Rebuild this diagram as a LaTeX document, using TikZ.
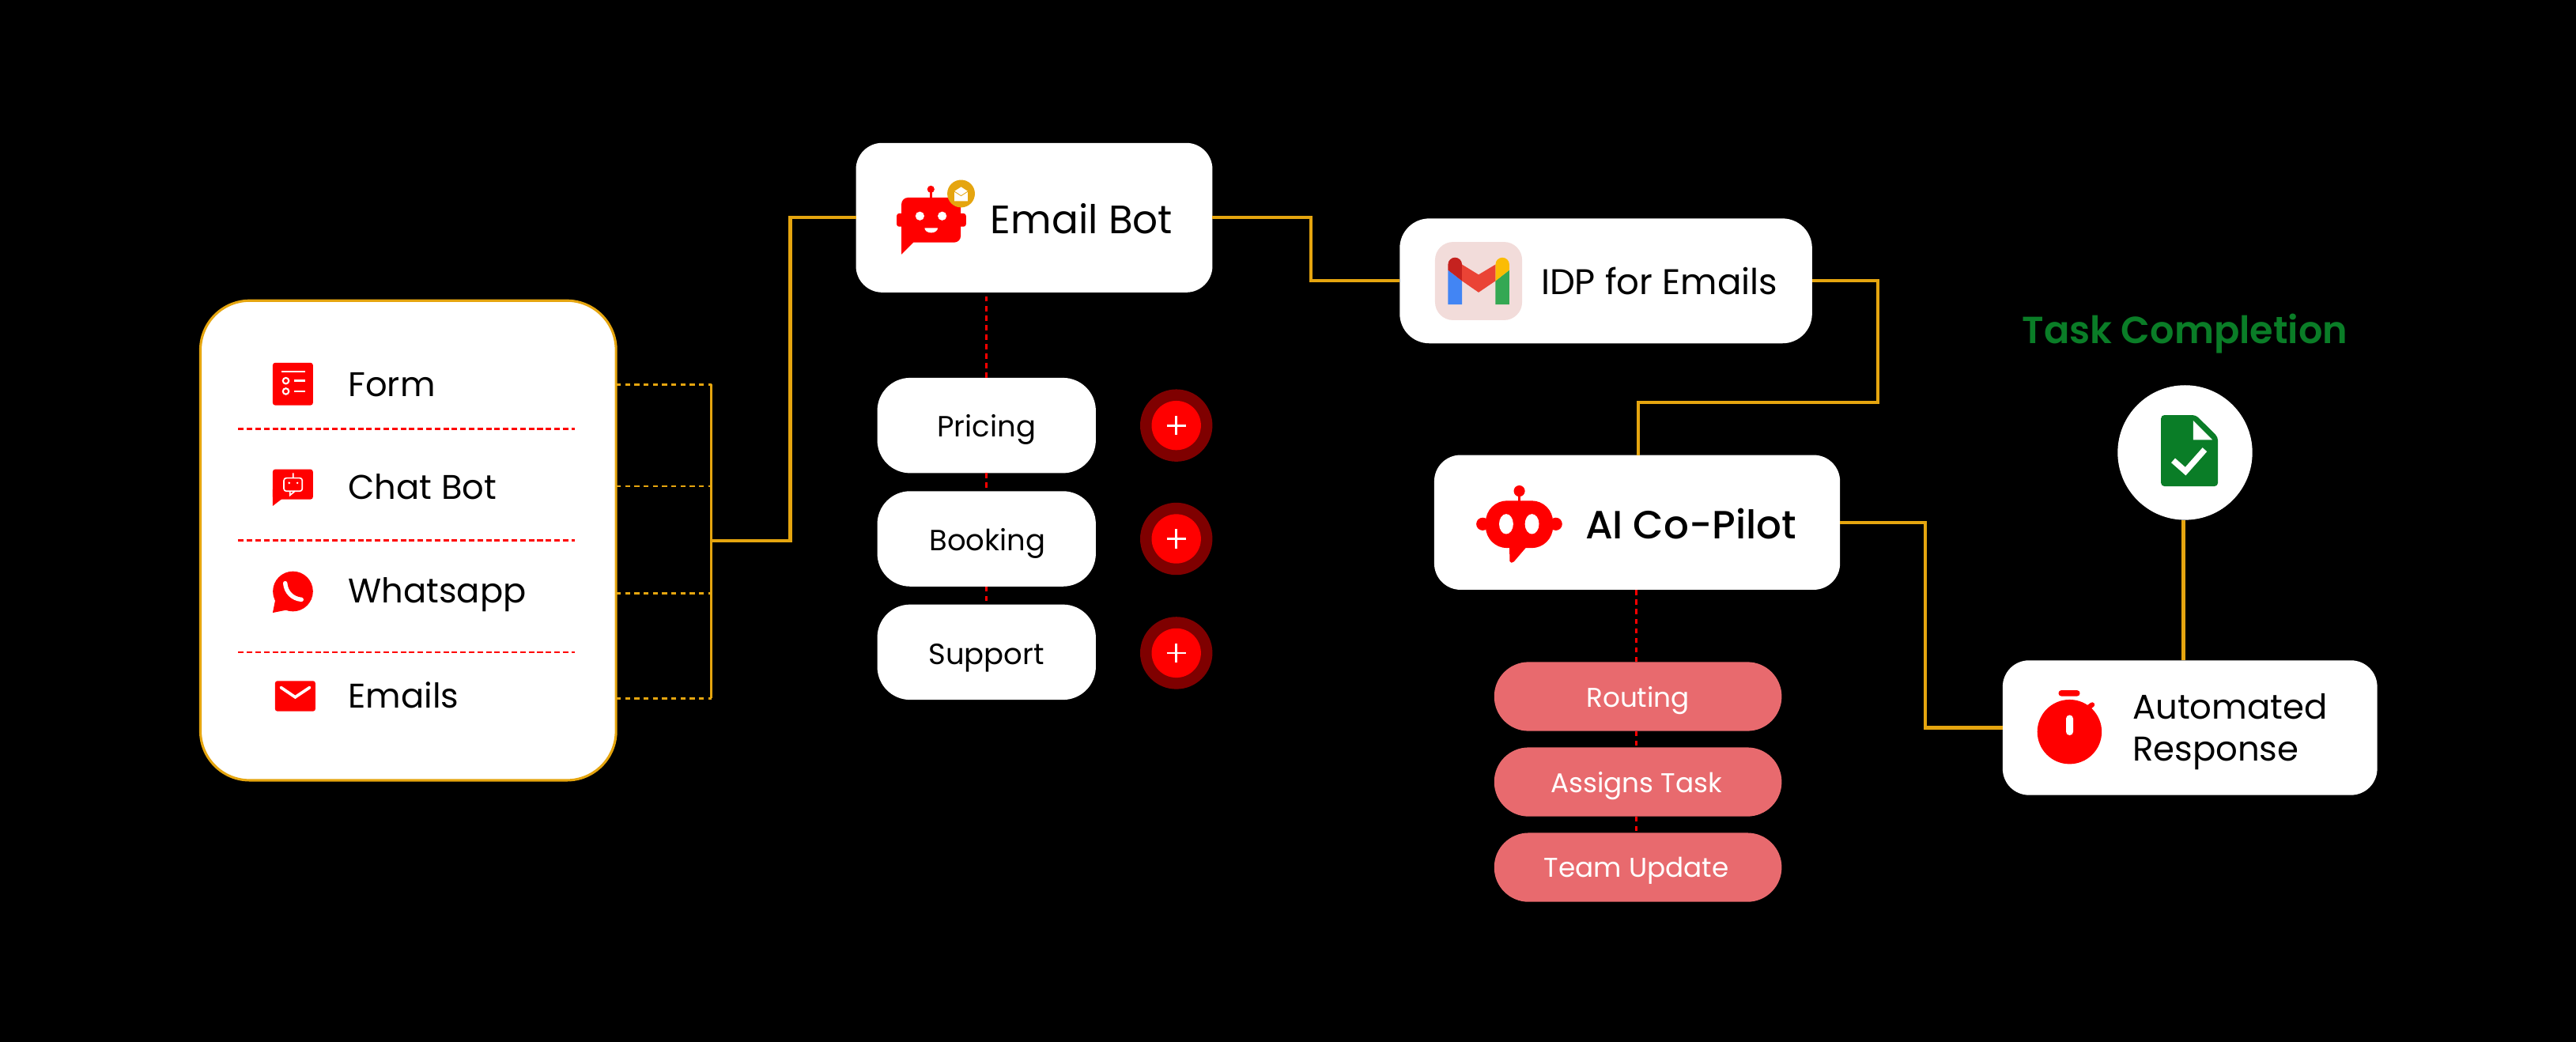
\documentclass[tikz,border=0pt]{standalone}
\usepackage{fontspec}
\setmainfont{Poppins}
\newfontfamily\heavyfont{Poppins Medium}
\newfontfamily\titlefont{Poppins SemiBold}
\usetikzlibrary{positioning}
\definecolor{brandred}{HTML}{FF0000}
\definecolor{darkdisc}{HTML}{7F0000}
\definecolor{gold}{HTML}{E5A50F}
\definecolor{softred}{HTML}{E86A6E}
\definecolor{taskgreen}{HTML}{0A7D27}
\definecolor{gmailtile}{HTML}{F2DCDA}
\definecolor{gmailblue}{HTML}{4285F4}
\definecolor{gmailgreen}{HTML}{34A853}
\definecolor{gmaildark}{HTML}{C5221F}
\definecolor{gmailyellow}{HTML}{FBBC04}
\definecolor{gmailred}{HTML}{EA4335}

\begin{document}
\begin{tikzpicture}
  [x=1pt,y=-1pt,
   box/.style={fill=white,rounded corners=16pt,inner sep=0pt,outer sep=0pt},
   pillbox/.style={box,minimum width=133pt,minimum height=58pt,rounded corners=20pt},
   taskpill/.style={fill=softred,rounded corners=20.9pt,inner sep=0pt,outer sep=0pt,
     minimum width=175pt,minimum height=42pt},
   lbl/.style={inner sep=0pt,outer sep=0pt,anchor=base west,text=black},
   rowlbl/.style={lbl,font=\fontsize{20.8}{25}\selectfont},
   pilllbl/.style={inner sep=0pt,anchor=base,text=black,font=\fontsize{17.8}{21}\selectfont},
   tasklbl/.style={inner sep=0pt,anchor=base,text=white,font=\fontsize{16.5}{20}\selectfont},
   link/.style={draw=gold,line width=2pt},
   thinlink/.style={draw=gold,line width=1.5pt},
   dotlink/.style={draw=gold,line width=1.4pt,dash pattern=on 3pt off 2.6pt},
   redlink/.style={draw=brandred,line width=1.2pt,dash pattern=on 3.4pt off 1.8pt},
   redstem/.style={draw=brandred,line width=1.3pt,dash pattern=on 3.2pt off 2.6pt},
   disc/.style={circle,fill=darkdisc,minimum size=44pt,inner sep=0pt},
   plusdisc/.style={circle,fill=brandred,minimum size=30pt,inner sep=0pt},
   plusbar/.style={draw=white,line width=1.3pt}]

  \useasboundingbox (0,0) rectangle (1568,633.85);
  \fill[black] (-2,-2) rectangle (1570,636);

  \node[box,fill=white,draw=gold,line width=1.5pt,rounded corners=30pt,
        minimum width=253pt,minimum height=292pt] (card) at (248.5,329) {};
  \coordinate (formtap)   at (433,234);
  \coordinate (chattap)   at (433,296);
  \coordinate (whatstap)  at (433,361);
  \coordinate (emailstap) at (433,425);
  \coordinate (bus)       at (433,329);
  \coordinate (doneaxis)  at (1329,0);
  \coordinate (routeaxis) at (996,0);
  \coordinate (copilotaxis) at (997,0);

  \node[rowlbl] (form)     at (212,241.6) {Form};
  \node[rowlbl] (chatbot)  at (212,303.8) {Chat Bot};
  \node[rowlbl] (whatsapp) at (212,367.2) {Whatsapp};
  \node[rowlbl] (emails)   at (212,430.8) {Emails};

  \coordinate (sepa) at (145,261);
  \coordinate (sepb) at (145,329);
  \coordinate (sepc) at (145,397);
  \draw[redlink] (sepa) -- ++(205,0);
  \draw[redlink] (sepb) -- ++(205,0);
  \draw[redlink] (sepc) -- ++(205,0);

  \draw[dotlink] (card.east |- formtap)   -- (formtap);
  \draw[dotlink] (card.east |- chattap)   -- (chattap);
  \draw[dotlink] (card.east |- whatstap)  -- (whatstap);
  \draw[dotlink] (card.east |- emailstap) -- (emailstap);
  \draw[thinlink] (formtap) -- (emailstap);

  \node[box,minimum width=217pt,minimum height=91pt] (emailbot) at (629.5,132.5) {};
  \node[lbl,font=\fontsize{24.1}{28}\selectfont] (emailbotlbl) at (603,142) {Email Bot};
  \node[box,rounded corners=18pt,minimum width=251pt,minimum height=76pt] (idp) at (977.5,171) {};
  \node[lbl,font=\fontsize{21.7}{26}\selectfont] (idplbl) at (938,179.4) {IDP for Emails};
  \node[box,minimum width=247pt,minimum height=82pt] (copilot) at (996.5,318) {};
  \node[lbl,font=\heavyfont\fontsize{24}{28}\selectfont] (copilotlbl) at (965,328.2) {AI Co-Pilot};
  \node[box,minimum width=228pt,minimum height=82pt] (response) at (1333,443) {};
  \node[lbl,font=\fontsize{20.9}{25.6}\selectfont,align=left,anchor=west] (responselbl) at (1298,445.4) {Automated\\Response};
  \node[circle,fill=white,minimum size=82pt,inner sep=0pt,outer sep=0pt] (done) at (1330,275.5) {};
  \node[inner sep=0pt,anchor=base,text=taskgreen,font=\titlefont\fontsize{23}{28}\selectfont] (donelbl) at (1330,209.2) {Task Completion};

  \node[pillbox] (pricing) at (600.5,259) {};
  \node[pillbox] (booking) [below=11pt of pricing] {};
  \node[pillbox] (support) [below=11pt of booking] {};
  \node[pilllbl] (pricinglbl) at (600.5,266) {Pricing};
  \node[pilllbl] (bookinglbl) at (601,335.3) {Booking};
  \node[pilllbl] (supportlbl) at (600.5,404.3) {Support};

  \node[disc] (plusa) at (716,259) {};
  \node[disc] (plusb) at (716,328) {};
  \node[disc] (plusc) at (716,397.5) {};
  \node[plusdisc] (inna) at (plusa) {};
  \node[plusdisc] (innb) at (plusb) {};
  \node[plusdisc] (innc) at (plusc) {};
  \draw[plusbar] (inna.center) +(-5.8,0) -- +(5.8,0) +(0,-5.8) -- +(0,5.8);
  \draw[plusbar] (innb.center) +(-5.8,0) -- +(5.8,0) +(0,-5.8) -- +(0,5.8);
  \draw[plusbar] (innc.center) +(-5.8,0) -- +(5.8,0) +(0,-5.8) -- +(0,5.8);

  \node[taskpill] (routing) at (997,424) {};
  \node[taskpill] (assigns) [below=10pt of routing] {};
  \node[taskpill] (update)  [below=10pt of assigns] {};
  \node[tasklbl] (routinglbl) at (997,430.4) {Routing};
  \node[tasklbl] (assignslbl) at (996,482.4) {Assigns Task};
  \node[tasklbl] (updatelbl)  at (996,534.1) {Team Update};

  \draw[link] (bus) -- (481,329) |- (emailbot.west);
  \draw[link] (emailbot.east) -- (798,132.5) |- (idp.west);
  \draw[link] (idp.east) -- (1143,171) |- (997,245) -- (copilot.north -| copilotaxis);
  \draw[link] (copilot.east) -- (1172,318) |- (response.west);
  \draw[link] (done.south -| doneaxis) -- (response.north -| doneaxis);

  \draw[redstem] (pricing.north) -- (pricing.north |- emailbot.south);
  \draw[redstem] (pricing.south) -- (booking.north);
  \draw[redstem] (booking.south) -- (support.north);
  \draw[redstem] (routing.north -| routeaxis) -- (copilot.south -| routeaxis);
  \draw[redstem] (routing.south -| routeaxis) -- (assigns.north -| routeaxis);
  \draw[redstem] (assigns.south -| routeaxis) -- (update.north -| routeaxis);

  \fill[brandred,rounded corners=1.5pt] (166,220.8) rectangle (190.5,246.7);
  \draw[white,line width=1.2pt] (171.3,226.2) -- (185.6,226.2);
  \draw[white,line width=1pt] (174,231.8) circle (1.8);
  \draw[white,line width=1.2pt] (179,231.8) -- (185.6,231.8);
  \draw[white,line width=1pt] (174,238.2) circle (1.8);
  \draw[white,line width=1.2pt] (179,238.2) -- (185.6,238.2);

  \fill[brandred,rounded corners=1.5pt] (166,285.7) rectangle (190.5,304);
  \fill[brandred] (166,298) -- (166,308) -- (172.5,303) -- cycle;
  \draw[white,line width=.8pt,rounded corners=1.5pt] (172.8,291) rectangle (184,299);
  \draw[white,line width=.8pt] (178.4,288) -- (178.4,291) (176.5,299) -- (176.5,301.5) -- (179.5,299);
  \fill[white] (176,294) circle (.7) (181,294) circle (.7);

  \fill[brandred] (178.3,360) circle (12.2);
  \fill[brandred] (168,363) -- (166,373) -- (176,371) -- cycle;
  \draw[white,line width=2.6pt,line cap=round] (173.6,355) .. controls (174,360.5) and (178,364.5) .. (183.5,365);

  \fill[brandred,rounded corners=1.5pt] (167.4,414.5) rectangle (192,433);
  \draw[white,line width=1.8pt,line cap=round] (171,418.5) -- (179.7,424.4) -- (188.5,418.5);

  \fill[brandred] (566.6,115.2) circle (2.2);
  \fill[brandred] (566,116) rectangle (567.2,121);
  \fill[brandred,rounded corners=4pt] (548.7,120.3) rectangle (584.8,147.6);
  \fill[brandred,rounded corners=1.5pt] (545.8,129.9) rectangle (588,138);
  \fill[brandred] (548.7,140) -- (548.7,154.8) -- (556,147.6) -- (552,143) -- cycle;
  \fill[white] (559.9,131.5) circle (2.7) (573.5,131.5) circle (2.7);
  \fill[white] (562.8,138.8) arc (180:0:4 and 2.9) -- cycle;
  \fill[gold] (585,117.9) circle (8.4);
  \fill[white] (581,116.4) -- (585,113.8) -- (589,116.4) -- (589,122.4) -- (581,122.4) -- cycle;
  \draw[gold,line width=.4pt] (581,116.6) -- (585,119.2) -- (589,116.6);

  \fill[gmailtile,rounded corners=11pt] (873.5,147.3) rectangle (926.5,194.9);
  \fill[gmailblue] (881.4,164.4) -- (889.9,171) -- (889.9,185.3) -- (881.4,185.3) -- cycle;
  \fill[gmailgreen] (910.3,171) -- (918.7,164.4) -- (918.7,185.3) -- (910.3,185.3) -- cycle;
  \fill[gmaildark] (881.4,164.4) -- (881.4,161) arc (180:360:4.25) -- (889.9,171) -- cycle;
  \fill[gmailyellow] (910.3,171) -- (910.3,161) arc (180:360:4.2) -- (918.7,164.4) -- cycle;
  \fill[gmailred] (889.9,161) -- (900,167.2) -- (910.3,161) -- (910.3,171) -- (900,178) -- (889.9,171) -- cycle;

  \fill[brandred] (924.8,298.9) circle (3.4);
  \fill[brandred] (924,300) rectangle (925.6,306);
  \fill[brandred,rounded corners=13pt] (904.3,304.8) rectangle (945.3,333.6);
  \fill[brandred] (902.5,319) circle (3.9) (947,319) circle (3.9);
  \fill[brandred,rounded corners=.8pt] (918.7,331) -- (919,342.5) -- (921,342.5) -- (930,332) -- cycle;
  \fill[white] (916.8,319) ellipse (4.3 and 6.1) (932.5,319) ellipse (4.3 and 6.1);

  \fill[brandred] (1259.7,445.5) circle (19.6);
  \fill[brandred,rounded corners=1.7pt] (1253,420.2) rectangle (1266,423.8);
  \draw[brandred,line width=3pt,line cap=round] (1270,431.6) -- (1273.5,429);
  \fill[white,rounded corners=2.1pt] (1257.6,435.3) rectangle (1261.9,447.6);

  \fill[taskgreen,rounded corners=2pt] (1315.4,252.7) -- (1336.6,252.7) -- (1350,266) -- (1350,296) -- (1315.4,296) -- cycle;
  \fill[white] (1335,256) -- (1335,267.8) -- (1346.7,267.8) -- cycle;
  \draw[white,line width=3.6pt] (1322.8,280.3) -- (1330.3,286.9) -- (1342,273.7);
\end{tikzpicture}
\end{document}
